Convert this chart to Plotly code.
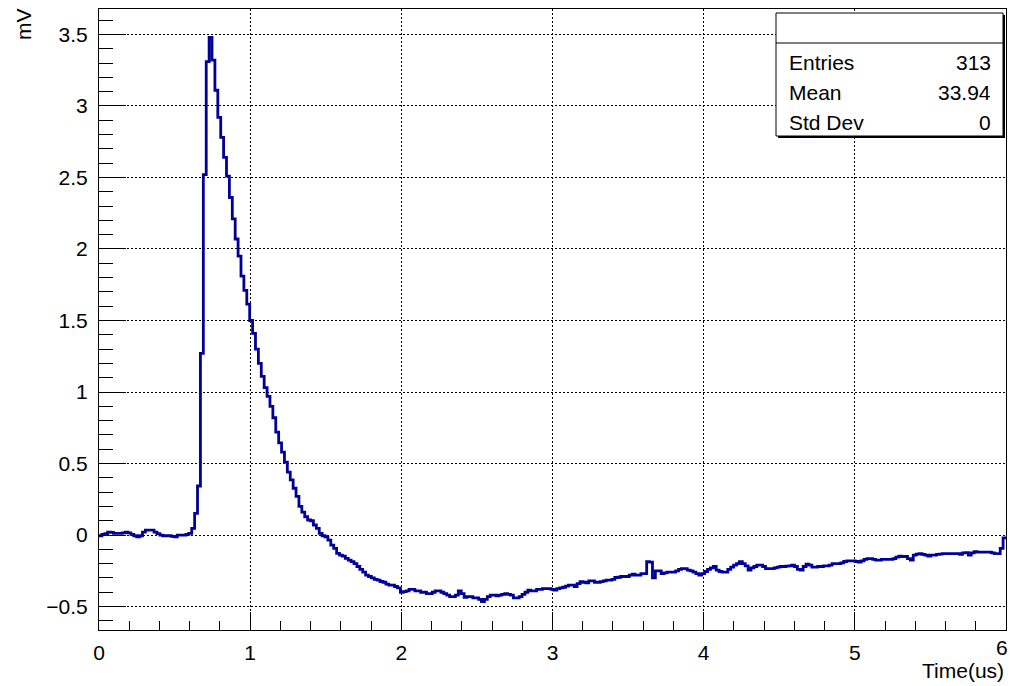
import numpy as np
import plotly.graph_objects as go

# ---------------- data ----------------
X_MIN, X_MAX = 0.0, 6.0
N_BINS = 313

baseline_mv = [  # bins 0-31
    -0.005, 0.005, 0.01, 0.02, 0.018, 0.012, 0.012, 0.012, 0.015, 0.02,
    0.015, 0.005, -0.005, -0.012, -0.005, 0.02, 0.035, 0.035, 0.035, 0.02,
    0.01, 0.0, -0.005, -0.005, -0.005, -0.01, -0.012, 0.0, 0.0, 0.0,
    0.005, 0.012,
]
pulse_mv = [  # bins 32-100
    0.047, 0.152, 0.343, 1.27, 2.52, 3.31, 3.48, 3.32, 3.11,
    2.92, 2.78, 2.64, 2.51, 2.36, 2.21, 2.07, 1.95, 1.81, 1.71, 1.615,
    1.50, 1.41, 1.30, 1.20, 1.11, 1.03, 0.97, 0.90, 0.82, 0.72,
    0.645, 0.58, 0.51, 0.44, 0.385, 0.327, 0.27, 0.20, 0.16, 0.128,
    0.105, 0.10, 0.07, 0.047, 0.012, -0.005, -0.012, -0.035, -0.07, -0.093,
    -0.128, -0.14, -0.147, -0.163, -0.175, -0.186, -0.20, -0.22, -0.24, -0.26,
    -0.28, -0.29, -0.30, -0.31, -0.315, -0.325, -0.33, -0.343, -0.35,
]
undershoot_mv = [  # bins 101-200
    -0.35, -0.36, -0.37, -0.40, -0.395, -0.39, -0.38, -0.38, -0.39, -0.39,
    -0.40, -0.40, -0.41, -0.41, -0.40, -0.39, -0.39, -0.40, -0.41, -0.42,
    -0.43, -0.43, -0.42, -0.39, -0.41, -0.435, -0.43, -0.43, -0.44, -0.44,
    -0.45, -0.465, -0.45, -0.43, -0.42, -0.42, -0.425, -0.42, -0.415, -0.41,
    -0.415, -0.42, -0.44, -0.44, -0.43, -0.415, -0.40, -0.385, -0.39, -0.39,
    -0.38, -0.38, -0.375, -0.375, -0.375, -0.38, -0.385, -0.375, -0.37, -0.365,
    -0.357, -0.35, -0.35, -0.36, -0.34, -0.326, -0.33, -0.335, -0.32, -0.32,
    -0.33, -0.33, -0.326, -0.32, -0.315, -0.315, -0.31, -0.297, -0.295, -0.29,
    -0.29, -0.29, -0.28, -0.273, -0.28, -0.28, -0.27, -0.27, -0.186, -0.19,
    -0.30, -0.25, -0.25, -0.27, -0.265, -0.26, -0.26, -0.26, -0.25, -0.24,
]
recovery_mv = [  # bins 201-312
    -0.235, -0.235, -0.245, -0.25, -0.26, -0.27, -0.28, -0.27, -0.255, -0.24,
    -0.23, -0.22, -0.245, -0.255, -0.26, -0.26, -0.24, -0.225, -0.21, -0.20,
    -0.186, -0.20, -0.215, -0.245, -0.23, -0.22, -0.21, -0.21, -0.22, -0.235,
    -0.235, -0.235, -0.23, -0.225, -0.22, -0.22, -0.218, -0.215, -0.21, -0.22,
    -0.24, -0.245, -0.22, -0.203, -0.21, -0.225, -0.225, -0.22, -0.22, -0.215,
    -0.215, -0.21, -0.20, -0.20, -0.20, -0.195, -0.185, -0.18, -0.18, -0.18,
    -0.185, -0.19, -0.18, -0.17, -0.165, -0.165, -0.17, -0.175, -0.175, -0.17,
    -0.17, -0.17, -0.17, -0.165, -0.155, -0.147, -0.15, -0.15, -0.165, -0.175,
    -0.14, -0.133, -0.13, -0.135, -0.14, -0.147, -0.14, -0.14, -0.135, -0.133,
    -0.13, -0.13, -0.13, -0.13, -0.13, -0.13, -0.135, -0.125, -0.124, -0.14,
    -0.125, -0.117, -0.12, -0.12, -0.12, -0.12, -0.12, -0.125, -0.13, -0.13,
    -0.093, -0.02,
]

x_tick_vals = [0, 1, 2, 3, 4, 5, 6]
x_tick_text = ["0", "1", "2", "3", "4", "5", "6"]
y_tick_vals = [-0.5, 0, 0.5, 1, 1.5, 2, 2.5, 3, 3.5]
y_tick_text = ["\u22120.5", "0", "0.5", "1", "1.5", "2", "2.5", "3", "3.5"]
Y_RANGE = [-0.664, 3.678]

stat_labels = ["Entries", "Mean", "Std Dev"]
stat_values = ["313", "33.94", "0"]

x_title = "Time(us)"
y_title = "mV"

# ---------------- figure ----------------
values = baseline_mv + pulse_mv + undershoot_mv + recovery_mv
assert len(values) == N_BINS, len(values)
edges = np.linspace(X_MIN, X_MAX, N_BINS + 1)
xs = list(edges)
ys = values + [values[-1]]

W, H = 1010, 686
ML, MR, MT, MB = 99, 4, 9, 56
PW, PH = W - ML - MR, H - MT - MB


def px_x(px):
    return (px - ML) / PW


def px_y(py):
    return (H - MB - py) / PH


FONT = "Liberation Sans, Arial, sans-serif"
FS = 21
LINE_COL = "#000099"

fig = go.Figure()
fig.add_trace(go.Scatter(
    x=xs, y=ys, mode="lines",
    line=dict(shape="hv", color=LINE_COL, width=2.8),
    hoverinfo="skip", showlegend=False,
))

fig.update_layout(
    width=W, height=H,
    margin=dict(l=ML, r=MR, t=MT, b=MB, autoexpand=False),
    paper_bgcolor="white", plot_bgcolor="white",
    font=dict(family=FONT, size=FS, color="black"),
    showlegend=False,
)

# last x tick label is drawn separately (shifted inside the window, as in the reference)
shown_x_text = x_tick_text[:-1] + [""]

grid_dash = "2px,2px"
fig.update_xaxes(
    range=[X_MIN, X_MAX], tickmode="array", tickvals=x_tick_vals, ticktext=shown_x_text,
    ticks="inside", ticklen=18, tickwidth=1, tickcolor="black",
    showline=True, linecolor="black", linewidth=1, mirror=True,
    showgrid=True, gridcolor="black", gridwidth=1, griddash=grid_dash,
    zeroline=False, ticklabelstandoff=4, ticklabeloverflow="allow",
    minor=dict(ticks="inside", ticklen=9, tickwidth=1, tickcolor="black",
               tickmode="linear", tick0=0, dtick=0.2, showgrid=False),
    tickfont=dict(family=FONT, size=FS, color="black"),
)
fig.update_yaxes(
    range=Y_RANGE, tickmode="array", tickvals=y_tick_vals, ticktext=y_tick_text,
    ticks="inside", ticklen=27, tickwidth=1, tickcolor="black",
    showline=True, linecolor="black", linewidth=1, mirror=True,
    showgrid=True, gridcolor="black", gridwidth=1, griddash=grid_dash,
    zeroline=False, ticklabelstandoff=6,
    minor=dict(ticks="inside", ticklen=14, tickwidth=1, tickcolor="black",
               tickmode="linear", tick0=0, dtick=0.1, showgrid=False),
    tickfont=dict(family=FONT, size=FS, color="black"),
)

fig.add_annotation(text=x_tick_text[-1], xref="paper", yref="paper",
                   x=px_x(1002), y=px_y(648), xanchor="center", yanchor="middle",
                   showarrow=False, font=dict(family=FONT, size=FS, color="black"))

# axis titles
fig.add_annotation(text=y_title, xref="paper", yref="paper",
                   x=px_x(23), y=px_y(24), xanchor="center", yanchor="middle",
                   textangle=-90, showarrow=False,
                   font=dict(family=FONT, size=FS, color="black"))
fig.add_annotation(text=x_title, xref="paper", yref="paper",
                   x=px_x(1006), y=px_y(670), xanchor="right", yanchor="middle",
                   showarrow=False, font=dict(family=FONT, size=FS, color="black"))

# stats box
bx0, bx1, by0, by1, bdiv = 776, 1003, 13, 136, 43
fig.add_shape(type="rect", xref="paper", yref="paper",
              x0=px_x(bx0 + 2), x1=px_x(bx1 + 2), y0=px_y(by1 + 2), y1=px_y(by0 + 2),
              fillcolor="black", line=dict(width=0), layer="above")
fig.add_shape(type="rect", xref="paper", yref="paper",
              x0=px_x(bx0), x1=px_x(bx1), y0=px_y(by1), y1=px_y(by0),
              fillcolor="white", line=dict(color="black", width=1), layer="above")
fig.add_shape(type="line", xref="paper", yref="paper",
              x0=px_x(bx0), x1=px_x(bx1), y0=px_y(bdiv), y1=px_y(bdiv),
              line=dict(color="black", width=1), layer="above")
row_y = [62, 92, 122]
for lab, val, ry in zip(stat_labels, stat_values, row_y):
    fig.add_annotation(text=lab, xref="paper", yref="paper", x=px_x(787), y=px_y(ry),
                       xanchor="left", yanchor="middle", showarrow=False,
                       font=dict(family=FONT, size=FS, color="black"))
    fig.add_annotation(text=val, xref="paper", yref="paper", x=px_x(993), y=px_y(ry),
                       xanchor="right", yanchor="middle", showarrow=False,
                       font=dict(family=FONT, size=FS, color="black"))

fig.write_html(
    "out.html",
    config={"displayModeBar": False},
    post_script="document.body.style.margin='0';document.body.style.overflow='hidden';",
)
